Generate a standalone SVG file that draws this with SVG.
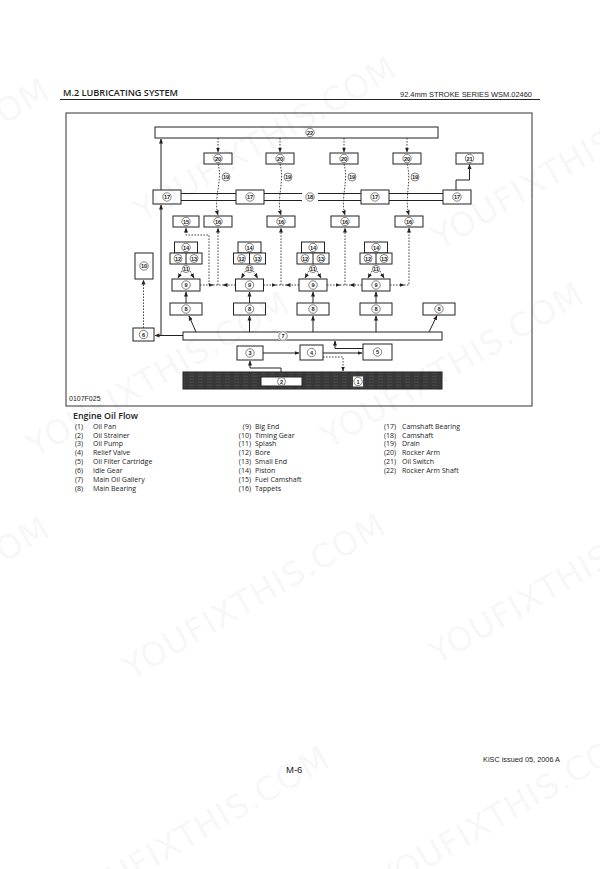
<svg xmlns="http://www.w3.org/2000/svg" width="600" height="869" viewBox="0 0 600 869">
<style>
.bx{fill:#fff;stroke:#222;stroke-width:1}
.ln{fill:none;stroke:#222;stroke-width:1}
.dl{fill:none;stroke:#333;stroke-width:0.9;stroke-dasharray:1.6 1.4}
.cc{fill:#fff;stroke:#333;stroke-width:0.6}
.cn{font-family:"Liberation Sans Narrow","Liberation Sans",sans-serif;font-size:5.6px;font-weight:bold;fill:#222;text-anchor:middle}
.hd{font-family:"Open Sans",sans-serif;font-weight:600;font-size:9px;fill:#222}
.hr{font-family:"Liberation Sans",sans-serif;font-size:7.5px;fill:#222}
.lg{font-family:"Open Sans",sans-serif;font-size:7px;fill:#222}
.lt{font-family:"Open Sans",sans-serif;font-size:9px;font-weight:600;fill:#222}
.ft{font-family:"Liberation Sans",sans-serif;fill:#222}
.wm{font-family:"DejaVu Sans",sans-serif;font-size:33px;letter-spacing:1px;fill:#000;fill-opacity:0.05;text-anchor:middle}
</style>
<defs>
<marker id="ah" viewBox="0 0 10 10" refX="9" refY="5" markerWidth="5" markerHeight="5" markerUnits="userSpaceOnUse" orient="auto"><path d="M0,1 L10,5 L0,9 z" fill="#222"/></marker>
<pattern id="pan" width="9" height="3" patternUnits="userSpaceOnUse"><rect width="9" height="3" fill="#383838"/><path d="M0,1.2 H5" stroke="#5e5e5e" stroke-width="0.5"/></pattern>
</defs>
<rect width="600" height="869" fill="#fff"/>

<!-- header -->
<text class="hd" x="63" y="96" textLength="115" lengthAdjust="spacingAndGlyphs">M.2 LUBRICATING SYSTEM</text>
<text class="hr" x="400" y="97" textLength="132" lengthAdjust="spacingAndGlyphs">92.4mm STROKE SERIES WSM.02460</text>
<line x1="60" y1="99.5" x2="540" y2="99.5" stroke="#222" stroke-width="1"/>

<!-- frame -->
<rect x="66" y="113" width="466" height="293" fill="none" stroke="#333" stroke-width="1"/>

<!-- connectors -->
<g id="connectors">
<path class="dl" d="M218,138 V152" marker-end="url(#ah)"/>
<path class="dl" d="M280,138 V152" marker-end="url(#ah)"/>
<path class="dl" d="M344,138 V152" marker-end="url(#ah)"/>
<path class="dl" d="M407,138 V152" marker-end="url(#ah)"/>
<path class="dl" d="M218,164 C223,181 213,198 218,215" marker-end="url(#ah)"/>
<path class="dl" d="M280,164 C285,181 276,198 281,215" marker-end="url(#ah)"/>
<path class="dl" d="M344,164 C349,181 340,198 345,215" marker-end="url(#ah)"/>
<path class="dl" d="M407,164 C412,181 404,198 409,215" marker-end="url(#ah)"/>
<path class="ln" d="M456,190 V180 H469.5 V164.5" marker-end="url(#ah)"/>
<path class="ln" d="M183,335.5 H155" marker-end="url(#ah)"/>
<path class="ln" d="M161,335.5 V205" marker-end="url(#ah)"/>
<path class="ln" d="M161,190 V139" marker-end="url(#ah)"/>
<path class="dl" d="M143.5,328 V280" marker-end="url(#ah)"/>
<path class="dl" d="M200,285 H213" marker-end="url(#ah)"/>
<path class="dl" d="M235.5,285 H223" marker-end="url(#ah)"/>
<path class="dl" d="M213,285 H223"/>
<path class="dl" d="M218,285 V228" marker-end="url(#ah)"/>
<path class="dl" d="M209,285 V235 H186 V228" marker-end="url(#ah)"/>
<path class="dl" d="M263.5,285 H276" marker-end="url(#ah)"/>
<path class="dl" d="M299,285 H286" marker-end="url(#ah)"/>
<path class="dl" d="M276,285 H286"/>
<path class="dl" d="M281,285 V228" marker-end="url(#ah)"/>
<path class="dl" d="M327,285 H340" marker-end="url(#ah)"/>
<path class="dl" d="M362,285 H350" marker-end="url(#ah)"/>
<path class="dl" d="M340,285 H350"/>
<path class="dl" d="M345,285 V228" marker-end="url(#ah)"/>
<path class="dl" d="M390,285 H404" marker-end="url(#ah)"/>
<path class="dl" d="M404,285 H409 V228" marker-end="url(#ah)"/>
<path class="dl" d="M182,271 L178,278" marker-end="url(#ah)"/>
<path class="dl" d="M190,271 L194,278" marker-end="url(#ah)"/>
<path class="dl" d="M245.5,271 L241.5,278" marker-end="url(#ah)"/>
<path class="dl" d="M253.5,271 L257.5,278" marker-end="url(#ah)"/>
<path class="dl" d="M309,271 L305,278" marker-end="url(#ah)"/>
<path class="dl" d="M317,271 L321,278" marker-end="url(#ah)"/>
<path class="dl" d="M372,271 L368,278" marker-end="url(#ah)"/>
<path class="dl" d="M380,271 L384,278" marker-end="url(#ah)"/>
<path class="ln" d="M186,303 V292" marker-end="url(#ah)"/>
<path class="ln" d="M249.5,303 V292" marker-end="url(#ah)"/>
<path class="ln" d="M313,303 V292" marker-end="url(#ah)"/>
<path class="ln" d="M376,303 V292" marker-end="url(#ah)"/>
<path class="ln" d="M196,332 L189,316" marker-end="url(#ah)"/>
<path class="ln" d="M249.5,332 V316" marker-end="url(#ah)"/>
<path class="ln" d="M313,332 V316" marker-end="url(#ah)"/>
<path class="ln" d="M376,332 V316" marker-end="url(#ah)"/>
<path class="ln" d="M429,332 L437,315.5" marker-end="url(#ah)"/>
<path class="ln" d="M263,353 H299" marker-end="url(#ah)"/>
<path class="ln" d="M323,353 H362" marker-end="url(#ah)"/>
<path class="ln" d="M363,348.5 H335 V341" marker-end="url(#ah)"/>
<path class="dl" d="M323,357 H343 V371" marker-end="url(#ah)"/>
<path class="ln" d="M281,377 V368 H250 V361" marker-end="url(#ah)"/>
</g>

<!-- nodes -->
<g id="n22"><rect class="bx" x="155" y="127" width="283" height="11"/><circle class="cc" cx="310" cy="132.5" r="4.2"/><text class="cn" x="310" y="134.5">22</text></g>

<g id="n20a"><rect class="bx" x="204" y="153" width="28" height="11"/><circle class="cc" cx="218" cy="158.5" r="4.2"/><text class="cn" x="218" y="160.5">20</text></g>
<g id="n20b"><rect class="bx" x="266" y="153" width="28" height="11"/><circle class="cc" cx="280" cy="158.5" r="4.2"/><text class="cn" x="280" y="160.5">20</text></g>
<g id="n20c"><rect class="bx" x="330" y="153" width="28" height="11"/><circle class="cc" cx="344" cy="158.5" r="4.2"/><text class="cn" x="344" y="160.5">20</text></g>
<g id="n20d"><rect class="bx" x="393" y="153" width="28" height="11"/><circle class="cc" cx="407" cy="158.5" r="4.2"/><text class="cn" x="407" y="160.5">20</text></g>
<g id="n21"><rect class="bx" x="456" y="153" width="27" height="11"/><circle class="cc" cx="469.5" cy="158.5" r="4.2"/><text class="cn" x="469.5" y="160.5">21</text></g>

<g id="n19labels">
<circle class="cc" cx="226" cy="177" r="4"/><text class="cn" x="226" y="179">19</text>
<circle class="cc" cx="288" cy="177" r="4"/><text class="cn" x="288" y="179">19</text>
<circle class="cc" cx="352" cy="177" r="4"/><text class="cn" x="352" y="179">19</text>
<circle class="cc" cx="415" cy="177" r="4"/><text class="cn" x="415" y="179">19</text>
</g>

<g id="n18">
<path class="ln" d="M181,193.5 H236 M264,193.5 H302 M318,193.5 H361 M389,193.5 H443 M181,200.5 H236 M264,200.5 H302 M318,200.5 H361 M389,200.5 H443"/>
<circle class="cc" cx="310" cy="197" r="4.2"/><text class="cn" x="310" y="199">18</text>
</g>
<g id="n17a"><rect class="bx" x="153" y="190" width="28" height="14"/><circle class="cc" cx="167" cy="197" r="4.2"/><text class="cn" x="167" y="199">17</text></g>
<g id="n17b"><rect class="bx" x="236" y="190" width="28" height="14"/><circle class="cc" cx="250" cy="197" r="4.2"/><text class="cn" x="250" y="199">17</text></g>
<g id="n17c"><rect class="bx" x="361" y="190" width="28" height="14"/><circle class="cc" cx="375" cy="197" r="4.2"/><text class="cn" x="375" y="199">17</text></g>
<g id="n17d"><rect class="bx" x="443" y="190" width="28" height="14"/><circle class="cc" cx="457" cy="197" r="4.2"/><text class="cn" x="457" y="199">17</text></g>

<g id="n15"><rect class="bx" x="173" y="216" width="26" height="11"/><circle class="cc" cx="186" cy="221.5" r="4.2"/><text class="cn" x="186" y="223.5">15</text></g>
<g id="n16a"><rect class="bx" x="204" y="216" width="28" height="11"/><circle class="cc" cx="218" cy="221.5" r="4.2"/><text class="cn" x="218" y="223.5">16</text></g>
<g id="n16b"><rect class="bx" x="267" y="216" width="28" height="11"/><circle class="cc" cx="281" cy="221.5" r="4.2"/><text class="cn" x="281" y="223.5">16</text></g>
<g id="n16c"><rect class="bx" x="331" y="216" width="28" height="11"/><circle class="cc" cx="345" cy="221.5" r="4.2"/><text class="cn" x="345" y="223.5">16</text></g>
<g id="n16d"><rect class="bx" x="395" y="216" width="28" height="11"/><circle class="cc" cx="409" cy="221.5" r="4.2"/><text class="cn" x="409" y="223.5">16</text></g>

<g id="piston1">
<rect class="bx" x="174.5" y="242" width="23" height="11"/><circle class="cc" cx="186" cy="247.5" r="4.2"/><text class="cn" x="186" y="249.5">14</text>
<rect class="bx" x="170" y="253" width="32" height="11"/><line class="ln" x1="186" y1="253" x2="186" y2="264"/>
<circle class="cc" cx="178" cy="258.5" r="4"/><text class="cn" x="178" y="260.5">12</text>
<circle class="cc" cx="194" cy="258.5" r="4"/><text class="cn" x="194" y="260.5">13</text>
<circle class="cc" cx="186" cy="269" r="3.6"/><text class="cn" x="186" y="271">11</text>
</g>
<g id="piston2">
<rect class="bx" x="238" y="242" width="23" height="11"/><circle class="cc" cx="249.5" cy="247.5" r="4.2"/><text class="cn" x="249.5" y="249.5">14</text>
<rect class="bx" x="233.5" y="253" width="32" height="11"/><line class="ln" x1="249.5" y1="253" x2="249.5" y2="264"/>
<circle class="cc" cx="241.5" cy="258.5" r="4"/><text class="cn" x="241.5" y="260.5">12</text>
<circle class="cc" cx="257.5" cy="258.5" r="4"/><text class="cn" x="257.5" y="260.5">13</text>
<circle class="cc" cx="249.5" cy="269" r="3.6"/><text class="cn" x="249.5" y="271">11</text>
</g>
<g id="piston3">
<rect class="bx" x="301.5" y="242" width="23" height="11"/><circle class="cc" cx="313" cy="247.5" r="4.2"/><text class="cn" x="313" y="249.5">14</text>
<rect class="bx" x="297" y="253" width="32" height="11"/><line class="ln" x1="313" y1="253" x2="313" y2="264"/>
<circle class="cc" cx="305" cy="258.5" r="4"/><text class="cn" x="305" y="260.5">12</text>
<circle class="cc" cx="321" cy="258.5" r="4"/><text class="cn" x="321" y="260.5">13</text>
<circle class="cc" cx="313" cy="269" r="3.6"/><text class="cn" x="313" y="271">11</text>
</g>
<g id="piston4">
<rect class="bx" x="364.5" y="242" width="23" height="11"/><circle class="cc" cx="376" cy="247.5" r="4.2"/><text class="cn" x="376" y="249.5">14</text>
<rect class="bx" x="360" y="253" width="32" height="11"/><line class="ln" x1="376" y1="253" x2="376" y2="264"/>
<circle class="cc" cx="368" cy="258.5" r="4"/><text class="cn" x="368" y="260.5">12</text>
<circle class="cc" cx="384" cy="258.5" r="4"/><text class="cn" x="384" y="260.5">13</text>
<circle class="cc" cx="376" cy="269" r="3.6"/><text class="cn" x="376" y="271">11</text>
</g>

<g id="n9a"><rect class="bx" x="172" y="279" width="28" height="12"/><circle class="cc" cx="186" cy="285" r="4.2"/><text class="cn" x="186" y="287">9</text></g>
<g id="n9b"><rect class="bx" x="235.5" y="279" width="28" height="12"/><circle class="cc" cx="249.5" cy="285" r="4.2"/><text class="cn" x="249.5" y="287">9</text></g>
<g id="n9c"><rect class="bx" x="299" y="279" width="28" height="12"/><circle class="cc" cx="313" cy="285" r="4.2"/><text class="cn" x="313" y="287">9</text></g>
<g id="n9d"><rect class="bx" x="362" y="279" width="28" height="12"/><circle class="cc" cx="376" cy="285" r="4.2"/><text class="cn" x="376" y="287">9</text></g>

<g id="n10"><rect class="bx" x="135" y="253" width="18" height="26"/><circle class="cc" cx="144" cy="266" r="4.2"/><text class="cn" x="144" y="268">10</text></g>

<g id="n8a"><rect class="bx" x="170" y="303" width="32" height="12"/><circle class="cc" cx="186" cy="309" r="4.2"/><text class="cn" x="186" y="311">8</text></g>
<g id="n8b"><rect class="bx" x="233.5" y="303" width="32" height="12"/><circle class="cc" cx="249.5" cy="309" r="4.2"/><text class="cn" x="249.5" y="311">8</text></g>
<g id="n8c"><rect class="bx" x="297" y="303" width="32" height="12"/><circle class="cc" cx="313" cy="309" r="4.2"/><text class="cn" x="313" y="311">8</text></g>
<g id="n8d"><rect class="bx" x="360" y="303" width="32" height="12"/><circle class="cc" cx="376" cy="309" r="4.2"/><text class="cn" x="376" y="311">8</text></g>
<g id="n8e"><rect class="bx" x="423" y="303" width="32" height="12"/><circle class="cc" cx="439" cy="309" r="4.2"/><text class="cn" x="439" y="311">8</text></g>

<g id="n7"><rect class="bx" x="183" y="332" width="259" height="8"/><circle cx="283" cy="336" r="5" fill="#fff"/><circle class="cc" cx="283" cy="336" r="4.2"/><text class="cn" x="283" y="338">7</text></g>
<g id="n6"><rect class="bx" x="133" y="328" width="21" height="13"/><circle class="cc" cx="143.5" cy="334.5" r="4.2"/><text class="cn" x="143.5" y="336.5">6</text></g>
<g id="n3"><rect class="bx" x="237" y="346" width="26" height="14"/><circle class="cc" cx="250" cy="353" r="4.2"/><text class="cn" x="250" y="355">3</text></g>
<g id="n4"><rect class="bx" x="300" y="345" width="23" height="15"/><circle class="cc" cx="311.5" cy="352.5" r="4.2"/><text class="cn" x="311.5" y="354.5">4</text></g>
<g id="n5"><rect class="bx" x="363" y="344" width="29" height="16"/><circle class="cc" cx="377.5" cy="352" r="4.2"/><text class="cn" x="377.5" y="354">5</text></g>

<g id="n1"><rect x="183" y="372" width="259" height="17" fill="url(#pan)" stroke="#222" stroke-width="1"/><rect x="353" y="376.5" width="10" height="10" fill="#fff"/><circle class="cc" cx="358" cy="381.5" r="4.2"/><text class="cn" x="358" y="383.5">1</text></g>
<g id="n2"><rect class="bx" x="261" y="377" width="41" height="9"/><circle class="cc" cx="281.5" cy="381.5" r="4"/><text class="cn" x="281.5" y="383.5">2</text></g>

<text class="ft" x="69" y="401" font-size="7">0107F025</text>

<!-- legend -->
<g id="legend">
<text class="lt" x="73" y="419" textLength="65" lengthAdjust="spacingAndGlyphs">Engine Oil Flow</text>
<g class="lg">
<text x="75" y="428.6">(1)</text><text x="93" y="428.6">Oil Pan</text>
<text x="75" y="437.5">(2)</text><text x="93" y="437.5">Oil Strainer</text>
<text x="75" y="446.4">(3)</text><text x="93" y="446.4">Oil Pump</text>
<text x="75" y="455.3">(4)</text><text x="93" y="455.3">Relief Valve</text>
<text x="75" y="464.2">(5)</text><text x="93" y="464.2">Oil Filter Cartridge</text>
<text x="75" y="473.1">(6)</text><text x="93" y="473.1">Idle Gear</text>
<text x="75" y="482">(7)</text><text x="93" y="482">Main Oil Gallery</text>
<text x="75" y="490.9">(8)</text><text x="93" y="490.9">Main Bearing</text>
<text x="251" y="428.6" text-anchor="end">(9)</text><text x="255" y="428.6">Big End</text>
<text x="251" y="437.5" text-anchor="end">(10)</text><text x="255" y="437.5">Timing Gear</text>
<text x="251" y="446.4" text-anchor="end">(11)</text><text x="255" y="446.4">Splash</text>
<text x="251" y="455.3" text-anchor="end">(12)</text><text x="255" y="455.3">Bore</text>
<text x="251" y="464.2" text-anchor="end">(13)</text><text x="255" y="464.2">Small End</text>
<text x="251" y="473.1" text-anchor="end">(14)</text><text x="255" y="473.1">Piston</text>
<text x="251" y="482" text-anchor="end">(15)</text><text x="255" y="482">Fuel Camshaft</text>
<text x="251" y="490.9" text-anchor="end">(16)</text><text x="255" y="490.9">Tappets</text>
<text x="384" y="428.6">(17)</text><text x="402" y="428.6">Camshaft Bearing</text>
<text x="384" y="437.5">(18)</text><text x="402" y="437.5">Camshaft</text>
<text x="384" y="446.4">(19)</text><text x="402" y="446.4">Drain</text>
<text x="384" y="455.3">(20)</text><text x="402" y="455.3">Rocker Arm</text>
<text x="384" y="464.2">(21)</text><text x="402" y="464.2">Oil Switch</text>
<text x="384" y="473.1">(22)</text><text x="402" y="473.1">Rocker Arm Shaft</text>
</g>
</g>

<!-- footer -->
<text class="ft" x="286" y="773" font-size="9.5">M-6</text>
<text class="ft" x="483" y="762" font-size="7.2" textLength="77" lengthAdjust="spacingAndGlyphs">KiSC issued 05, 2006 A</text>

<!-- watermarks -->
<g id="watermarks">
<text class="wm" transform="translate(-76,171) rotate(-30)">YOUFIXTHIS.COM</text>
<text class="wm" transform="translate(271,149) rotate(-30)">YOUFIXTHIS.COM</text>
<text class="wm" transform="translate(569,176) rotate(-30)">YOUFIXTHIS.COM</text>
<text class="wm" transform="translate(164,384) rotate(-30)">YOUFIXTHIS.COM</text>
<text class="wm" transform="translate(458,375) rotate(-30)">YOUFIXTHIS.COM</text>
<text class="wm" transform="translate(-76,609) rotate(-30)">YOUFIXTHIS.COM</text>
<text class="wm" transform="translate(260,606) rotate(-30)">YOUFIXTHIS.COM</text>
<text class="wm" transform="translate(566,591) rotate(-30)">YOUFIXTHIS.COM</text>
<text class="wm" transform="translate(204,839) rotate(-30)">YOUFIXTHIS.COM</text>
<text class="wm" transform="translate(514,819) rotate(-30)">YOUFIXTHIS.COM</text>
</g>
</svg>
